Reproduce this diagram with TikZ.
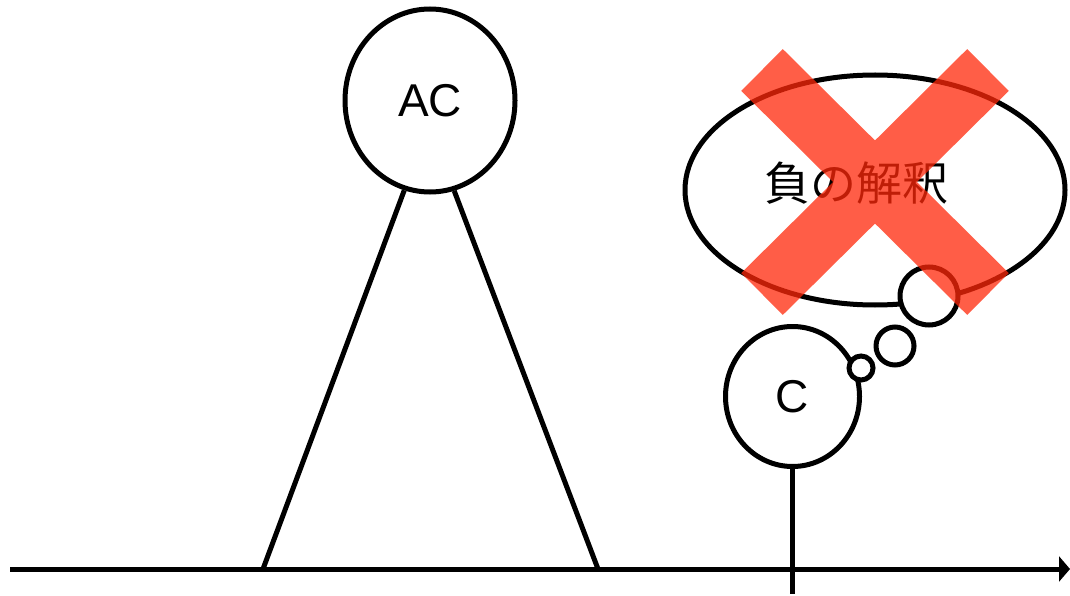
\documentclass[tikz,border=0pt]{standalone}
\usepackage{fontspec}
\setmainfont{Liberation Sans}
\newfontfamily\cjkfont{Noto Sans CJK JP}
\usetikzlibrary{arrows.meta,shapes.geometric}
\definecolor{crossred}{RGB}{255,40,10}
\tikzset{
  line/.style={line width=5pt, black},
  agent/.style={ellipse, draw, line width=5pt, fill=white, inner sep=0pt, font=\fontsize{46}{50}\selectfont},
  puff/.style={circle, draw, line width=5pt, fill=white, inner sep=0pt},
  thought/.style={ellipse, draw, line width=5pt, fill=white, inner sep=0pt},
  crossbar/.style={line width=59pt, crossred}
}
\begin{document}
\begin{tikzpicture}[x=1pt,y=-1pt]
\useasboundingbox (0,0) rectangle (1070,596);

% time axis
\coordinate (axL) at (10,569);
\coordinate (axR) at (1070,569);
\draw[line, -{Triangle[length=11pt,width=25pt]}] (axL) -- (axR);

% agent AC on its two legs
\node[agent, minimum width=170pt, minimum height=183pt] (AC) at (430,100.5) {AC};
\coordinate (legL) at (263,569);
\coordinate (legR) at (598,569);
\draw[line] (AC.254.5) -- (legL);
\draw[line] (AC.285.5) -- (legR);

% thought bubble
\node[thought, minimum width=380pt, minimum height=230pt] (idea) at (875,190) {};
\node[font=\cjkfont\fontsize{46}{50}\selectfont] (ideatext) at (856,183) {負の解釈};
\node[puff, minimum size=58pt] (b3) at (929,296) {};
\node[puff, minimum size=38pt] (b2) at (895,346) {};

% agent C on its stem
\node[agent, minimum width=134pt, minimum height=140pt] (C) at (792.5,396.5) {C};
\coordinate (stemEnd) at (792.5,594);
\draw[line] (C.south) -- (stemEnd);
\node[puff, minimum size=24pt] (b1) at (861,368) {};

% crossing out
\coordinate (xTL) at (762,70);
\coordinate (xBR) at (988,294);
\coordinate (xTR) at (988,70);
\coordinate (xBL) at (762,294);
\begin{scope}[transparency group, opacity=0.75]
\draw[crossbar] (xTL) -- (xBR);
\draw[crossbar] (xTR) -- (xBL);
\end{scope}
\end{tikzpicture}
\end{document}
